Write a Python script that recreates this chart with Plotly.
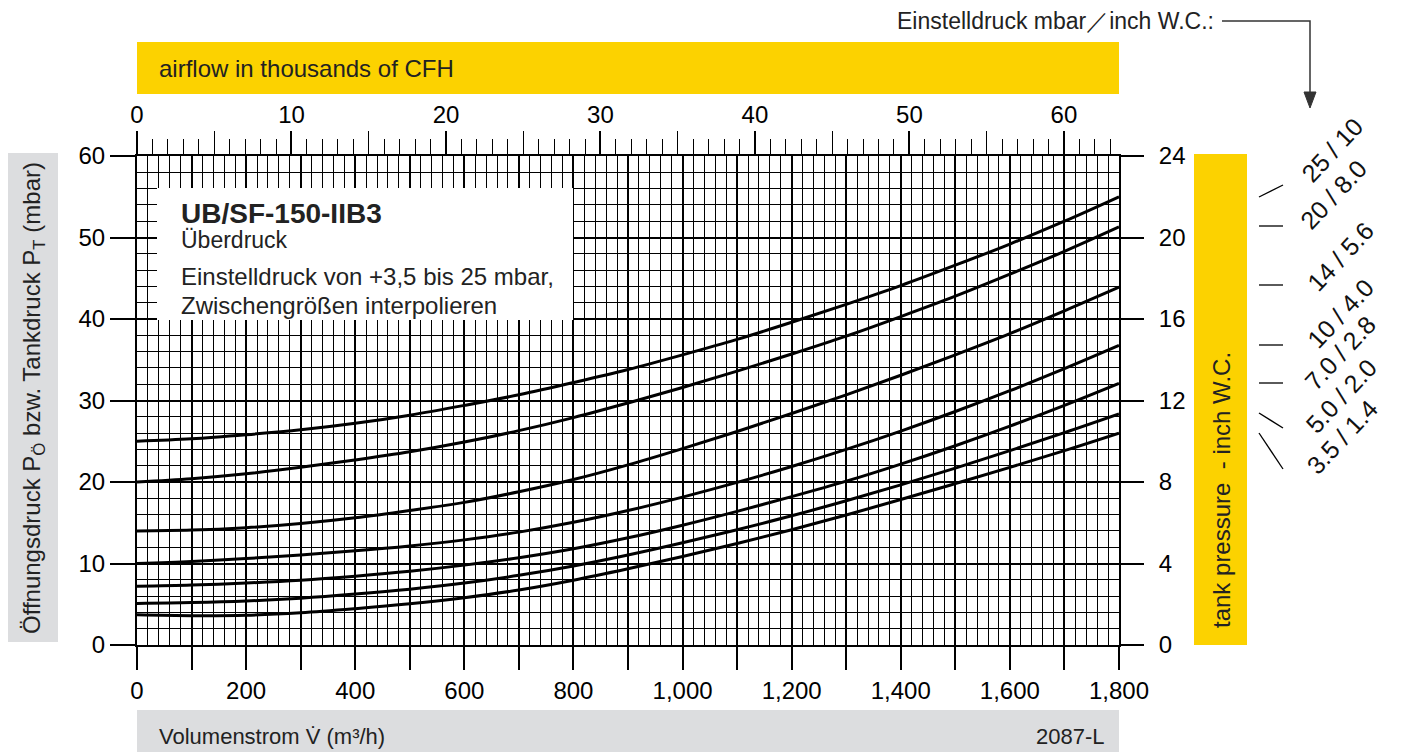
import plotly.graph_objects as go

# ---------------- data ----------------
flow = [0, 100, 200, 300, 400, 500, 600, 700, 800, 900, 1000, 1100, 1200, 1300, 1400, 1500, 1600, 1700, 1800]

p_25 = [25.0, 25.3, 25.8, 26.4, 27.2, 28.2, 29.4, 30.7, 32.2, 33.8, 35.6, 37.5, 39.6, 41.8, 44.1, 46.6, 49.2, 52.0, 55.0]
p_20 = [20.0, 20.4, 21.0, 21.8, 22.7, 23.7, 24.9, 26.3, 27.9, 29.7, 31.6, 33.6, 35.7, 37.9, 40.3, 42.8, 45.5, 48.3, 51.3]
p_14 = [14.0, 14.1, 14.4, 14.9, 15.6, 16.5, 17.5, 18.8, 20.3, 22.1, 24.1, 26.2, 28.4, 30.7, 33.1, 35.6, 38.2, 41.0, 43.9]
p_10 = [10.0, 10.25, 10.6, 11.05, 11.55, 12.15, 12.9, 13.85, 15.05, 16.5, 18.15, 19.95, 21.9, 24.0, 26.25, 28.65, 31.2, 33.9, 36.75]
p_7 = [7.2, 7.35, 7.6, 7.95, 8.45, 9.05, 9.8, 10.7, 11.8, 13.15, 14.7, 16.4, 18.2, 20.1, 22.2, 24.45, 26.85, 29.4, 32.1]
p_5 = [5.1, 5.2, 5.4, 5.75, 6.25, 6.85, 7.6, 8.55, 9.7, 11.05, 12.55, 14.15, 15.85, 17.7, 19.65, 21.7, 23.85, 26.05, 28.35]
p_35 = [3.7, 3.6, 3.65, 3.95, 4.45, 5.05, 5.8, 6.75, 7.95, 9.35, 10.85, 12.45, 14.15, 15.95, 17.85, 19.8, 21.8, 23.85, 26.0]
curves = [p_25, p_20, p_14, p_10, p_7, p_5, p_35]

set_labels = ["25 / 10", "20 / 8.0", "14 / 5.6", "10 / 4.0", "7.0 / 2.8", "5.0 / 2.0", "3.5 / 1.4"]

x_tick_vals = list(range(0, 1801, 100))
x_tick_text = ["0", "", "200", "", "400", "", "600", "", "800", "", "1,000", "", "1,200", "", "1,400", "", "1,600", "", "1,800"]
y_left_ticks = [0, 10, 20, 30, 40, 50, 60]
y_right_ticks = [0, 4, 8, 12, 16, 20, 24]
cfh_ticks = [0, 10, 20, 30, 40, 50, 60]
cfh_mid_ticks = [5, 15, 25, 35, 45, 55]
CFH_PER_M3H = 35.3147

# ---------------- geometry helpers (pixels -> paper) ----------------
L, R, T, B = 137, 1119, 156, 645
W, H = 1410, 752


def px(p):
    return (p - L) / (R - L)


def py(p):
    return (B - p) / (B - T)


FONT = "Liberation Sans, Arial, sans-serif"
YELLOW = "#FCD200"
GREY = "#DCDDDF"
TXT = "#222222"

fig = go.Figure()
for c in curves:
    fig.add_trace(go.Scatter(x=flow, y=c, mode="lines", line=dict(color="black", width=3, shape="spline", smoothing=1.0),
                             hoverinfo="skip", showlegend=False))

# invisible helpers so that overlay axes exist
cfh_max = 1800 * CFH_PER_M3H / 1000
fig.add_trace(go.Scatter(x=[0, cfh_max], y=[0, 0], xaxis="x2", yaxis="y", mode="none", showlegend=False, hoverinfo="skip"))
fig.add_trace(go.Scatter(x=[0, cfh_max], y=[0, 0], xaxis="x3", yaxis="y", mode="none", showlegend=False, hoverinfo="skip"))
fig.add_trace(go.Scatter(x=[0, 1800], y=[0, 24], xaxis="x", yaxis="y2", mode="none", showlegend=False, hoverinfo="skip"))

tickfont = dict(family=FONT, size=24, color="black")

fig.update_layout(
    width=W, height=H, autosize=False,
    margin=dict(l=L, r=W - R, t=T, b=H - B, pad=0),
    paper_bgcolor="white", plot_bgcolor="white",
    xaxis=dict(range=[0, 1800], tickmode="array", tickvals=x_tick_vals, ticktext=x_tick_text,
               ticks="outside", ticklen=23, tickwidth=2, tickcolor="black", tickfont=tickfont,
               showgrid=True, gridcolor="black", gridwidth=2, zeroline=False,
               showline=True, linecolor="black", linewidth=2, mirror=True,
               minor=dict(tickmode="linear", tick0=0, dtick=20, showgrid=True, gridcolor="black", gridwidth=1, ticks=""),
               fixedrange=True, ticklabelstandoff=0),
    yaxis=dict(range=[0, 60], tickmode="array", tickvals=y_left_ticks, ticks="outside", ticklen=25, tickwidth=2,
               tickcolor="black", tickfont=tickfont, showgrid=True, gridcolor="black", gridwidth=2, zeroline=False,
               showline=True, linecolor="black", linewidth=2, mirror=True,
               minor=dict(tickmode="linear", tick0=0, dtick=2, showgrid=True, gridcolor="black", gridwidth=1, ticks=""),
               fixedrange=True, ticklabelstandoff=0),
    xaxis2=dict(range=[0, cfh_max], overlaying="x", side="top", anchor="y",
                tickmode="array", tickvals=cfh_ticks, ticks="outside", ticklen=24, tickwidth=2, tickcolor="black",
                tickfont=tickfont, showgrid=False, zeroline=False, showline=False,
                minor=dict(tickmode="linear", tick0=0, dtick=1, ticks="outside", ticklen=16, tickwidth=1,
                           tickcolor="black", showgrid=False),
                fixedrange=True, ticklabelstandoff=-2),
    xaxis3=dict(range=[0, cfh_max], overlaying="x", side="top", anchor="y",
                tickmode="array", tickvals=cfh_mid_ticks, ticks="outside", ticklen=24, tickwidth=1, tickcolor="black",
                showticklabels=False, showgrid=False, zeroline=False, showline=False, fixedrange=True),
    yaxis2=dict(range=[0, 24], overlaying="y", side="right", anchor="x", tickmode="array", tickvals=y_right_ticks,
                ticks="outside", ticklen=24, tickwidth=2, tickcolor="black", tickfont=tickfont,
                showgrid=False, zeroline=False, showline=False, fixedrange=True, ticklabelstandoff=10),
    showlegend=False,
)

shapes = []
# yellow / grey bars
shapes.append(dict(type="rect", xref="paper", yref="paper", x0=px(137), x1=px(1119), y0=py(42), y1=py(94),
                   fillcolor=YELLOW, line=dict(width=0), layer="below"))
shapes.append(dict(type="rect", xref="paper", yref="paper", x0=px(1194), x1=px(1247), y0=py(154), y1=py(645),
                   fillcolor=YELLOW, line=dict(width=0), layer="below"))
shapes.append(dict(type="rect", xref="paper", yref="paper", x0=px(8), x1=px(58), y0=py(153), y1=py(642),
                   fillcolor=GREY, line=dict(width=0), layer="below"))
shapes.append(dict(type="rect", xref="paper", yref="paper", x0=px(137), x1=px(1119), y0=py(710), y1=py(760),
                   fillcolor=GREY, line=dict(width=0), layer="below"))
# white info box
shapes.append(dict(type="rect", xref="paper", yref="paper", x0=px(157), x1=px(573), y0=py(188), y1=py(320),
                   fillcolor="white", line=dict(width=0), layer="above"))
# pointer line and arrow head (top right)
shapes.append(dict(type="path", xref="paper", yref="paper",
                   path=f"M {px(1222)} {py(21)} L {px(1310)} {py(21)} L {px(1310)} {py(96)}",
                   line=dict(color="#333333", width=1.5)))
shapes.append(dict(type="path", xref="paper", yref="paper",
                   path=f"M {px(1304)} {py(92)} L {px(1316)} {py(92)} L {px(1310)} {py(108)} Z",
                   fillcolor="#333333", line=dict(color="#333333", width=1)))
# leader ticks for set-pressure labels
leaders = [((1259, 197), (1283, 185)), ((1259, 226), (1283, 226)), ((1259, 285), (1283, 285)),
           ((1259, 345), (1283, 345)), ((1259, 383), (1283, 383)), ((1259, 413), (1283, 428)),
           ((1259, 433), (1283, 469))]
for (a, b) in leaders:
    shapes.append(dict(type="line", xref="paper", yref="paper", x0=px(a[0]), y0=py(a[1]), x1=px(b[0]), y1=py(b[1]),
                       line=dict(color="black", width=1.3)))
fig.update_layout(shapes=shapes)

ann = []


def text(t, x, y, size, xanchor="left", yanchor="middle", angle=0, color=TXT):
    ann.append(dict(text=t, x=px(x), y=py(y), xref="paper", yref="paper", showarrow=False, xanchor=xanchor,
                    yanchor=yanchor, textangle=angle, font=dict(family=FONT, size=size, color=color)))


text("airflow in thousands of CFH", 157, 68, 24)
text("Volumenstrom V\u0307 (m³/h)", 157, 736, 22)
text("2087-L", 1107, 736, 22, xanchor="right")
text("Öffnungsdruck P<sub>Ö</sub> bzw. Tankdruck P<sub>T</sub> (mbar)", 33, 398, 24, xanchor="center", angle=-90)
text("tank pressure  - inch W.C.", 1221, 630, 24, xanchor="center", yanchor="bottom", angle=-90)
text("Einstelldruck mbar\uff0finch W.C.:", 1216, 21, 23, xanchor="right")
text("<b>UB/SF-150-IIB3</b>", 179, 213, 28, color="#222222")
text("Überdruck", 179, 240, 23)
text("Einstelldruck von +3,5 bis 25 mbar,", 179, 276, 24)
text("Zwischengrößen interpolieren", 179, 305, 24)

label_pos = [(1332, 150), (1333, 195), (1340, 257), (1340, 314), (1340, 353), (1341, 396), (1342, 437)]
for lab, (x, y) in zip(set_labels, label_pos):
    text(lab, x, y, 25, xanchor="center", angle=-47, color="#111111")

fig.update_layout(annotations=ann)
fig.write_html("out.html", config={"displayModeBar": False},
               post_script="document.body.style.margin='0px';")
